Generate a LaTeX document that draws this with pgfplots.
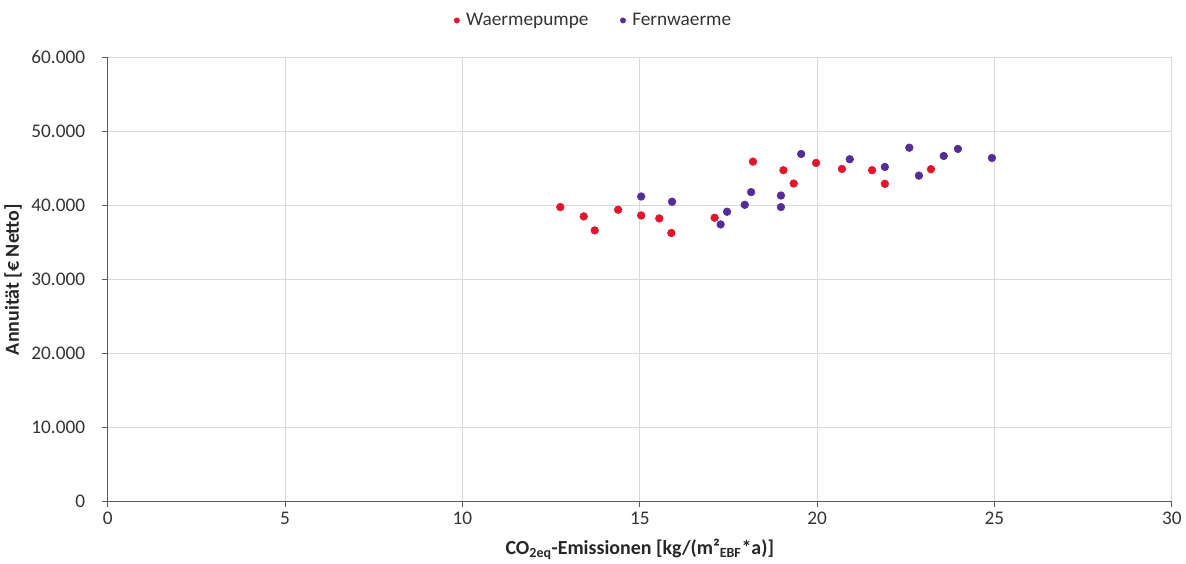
\documentclass[border=0pt]{standalone}
\usepackage{pgfplots}
\pgfplotsset{compat=1.18}
\usepackage{fontspec}
\setmainfont{Carlito}
\definecolor{wpred}{RGB}{228,20,45}
\definecolor{fwpurple}{RGB}{85,45,150}
\definecolor{axgray}{RGB}{90,90,90}
\definecolor{gridgray}{RGB}{217,217,217}
\begin{document}
\begin{tikzpicture}
\begin{axis}[
  scale only axis,
  width=801pt, height=334.5pt,
  xmin=0, xmax=30, ymin=0, ymax=60000,
  xtick={0,5,...,30},
  ytick={0,10000,...,60000},
  scaled y ticks=false,
  /pgf/number format/.cd, assume math mode=true, 1000 sep={.}, /pgfplots/.cd,
  axis lines=left,
  axis line style={-, draw=axgray, line width=0.9pt},
  grid=major,
  major grid style={gridgray, line width=0.8pt},
  tick align=outside,
  major tick length=4pt,
  tick style={axgray, line width=0.8pt},
  ticklabel style={font=\fontsize{14.5}{16}\selectfont, text=black!80},
  yticklabel style={xshift=-9.5pt},
  xticklabel style={yshift=0pt},
  xlabel={\textbf{CO\textsubscript{2eq}-Emissionen [kg/(m²\textsubscript{EBF}*a)]}},
  ylabel={\textbf{Annuität [€ Netto]}},
  label style={font=\fontsize{15}{17}\selectfont, text=black!85},
  xlabel style={yshift=-4pt},
  ylabel style={yshift=0.3pt},
  legend style={at={(0.457,1.083)}, anchor=center, draw=none, legend columns=2,
    inner ysep=8pt,
    font=\fontsize{14.5}{16}\selectfont, text=black!80,
    /tikz/every odd column/.append style={column sep=3pt},
    /tikz/every even column/.append style={column sep=22pt}},
  legend image post style={mark size=2pt},
  legend cell align=left,
]
\addplot[only marks, mark=*, mark size=2.9pt, color=wpred] coordinates {
(12.76,39780) (13.42,38520) (13.73,36630) (14.39,39420) (15.04,38650)
(15.55,38250) (15.89,36280) (17.11,38340) (18.19,45920) (19.05,44760)
(19.34,42960) (19.97,45740) (20.70,44930) (21.55,44760) (21.91,42920)
(23.21,44890)
};
\addlegendentry{Waermepumpe}
\addplot[only marks, mark=*, mark size=2.9pt, color=fwpurple] coordinates {
(15.04,41210) (15.91,40500) (17.28,37440) (17.46,39150) (17.96,40090)
(18.14,41800) (18.98,41340) (18.98,39780) (19.55,46950) (20.92,46240)
(21.91,45200) (22.60,47800) (22.87,44030) (23.57,46680) (23.97,47630)
(24.93,46410)
};
\addlegendentry{Fernwaerme}
\end{axis}
\end{tikzpicture}
\end{document}
